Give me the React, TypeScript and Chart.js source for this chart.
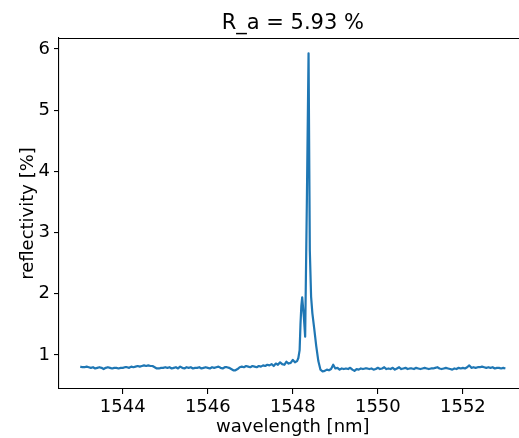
import React, { useEffect, useRef } from "react";
import { Chart, registerables } from "chart.js";

Chart.register(...registerables);

const titleText = "R_a = 5.93 %";
const xLabel = "wavelength [nm]";
const yLabel = "reflectivity [%]";
const xTicks = [1544, 1546, 1548, 1550, 1552];
const yTicks = [1, 2, 3, 4, 5, 6];

const wavelengthNm = [
  1543.0, 1543.05, 1543.1, 1543.15, 1543.2, 1543.25, 1543.3, 1543.35, 1543.4, 1543.45,
  1543.5, 1543.55, 1543.6, 1543.65, 1543.7, 1543.75, 1543.8, 1543.85, 1543.9, 1543.95,
  1544.0, 1544.05, 1544.1, 1544.15, 1544.2, 1544.25, 1544.3, 1544.35, 1544.4, 1544.45,
  1544.5, 1544.55, 1544.6, 1544.65, 1544.7, 1544.75, 1544.8, 1544.85, 1544.9, 1544.95,
  1545.0, 1545.05, 1545.1, 1545.15, 1545.2, 1545.25, 1545.3, 1545.35, 1545.4, 1545.45,
  1545.5, 1545.55, 1545.6, 1545.65, 1545.7, 1545.75, 1545.8, 1545.85, 1545.9, 1545.95,
  1546.0, 1546.05, 1546.1, 1546.15, 1546.2, 1546.25, 1546.3, 1546.35, 1546.4, 1546.45,
  1546.5, 1546.55, 1546.6, 1546.65, 1546.7, 1546.75, 1546.8, 1546.85, 1546.9, 1546.95,
  1547.0, 1547.05, 1547.1, 1547.15, 1547.2, 1547.25, 1547.3, 1547.35, 1547.4, 1547.45,
  1547.5, 1547.55, 1547.6, 1547.65, 1547.7, 1547.75, 1547.8, 1547.85, 1547.9, 1547.95,
  1548.0, 1548.05, 1548.1,
  1548.13, 1548.16, 1548.18, 1548.2, 1548.22, 1548.26, 1548.29, 1548.33, 1548.37, 1548.4,
  1548.43, 1548.46, 1548.5, 1548.55, 1548.6, 1548.65, 1548.7,
  1548.75, 1548.8, 1548.85, 1548.9, 1548.95,
  1549.0, 1549.05, 1549.1, 1549.15, 1549.2, 1549.25, 1549.3, 1549.35, 1549.4, 1549.45,
  1549.5, 1549.55, 1549.6, 1549.65, 1549.7, 1549.75, 1549.8, 1549.85, 1549.9, 1549.95,
  1550.0, 1550.05, 1550.1, 1550.15, 1550.2, 1550.25, 1550.3, 1550.35, 1550.4, 1550.45,
  1550.5, 1550.55, 1550.6, 1550.65, 1550.7, 1550.75, 1550.8, 1550.85, 1550.9, 1550.95,
  1551.0, 1551.05, 1551.1, 1551.15, 1551.2, 1551.25, 1551.3, 1551.35, 1551.4, 1551.45,
  1551.5, 1551.55, 1551.6, 1551.65, 1551.7, 1551.75, 1551.8, 1551.85, 1551.9, 1551.95,
  1552.0, 1552.05, 1552.1, 1552.15, 1552.2, 1552.25, 1552.3, 1552.35, 1552.4, 1552.45,
  1552.5, 1552.55, 1552.6, 1552.65, 1552.7, 1552.75, 1552.8, 1552.85, 1552.9, 1552.95,
  1553.0,
];

const reflectivityPct = [
  0.81, 0.8, 0.8, 0.81, 0.8, 0.79, 0.8, 0.78, 0.79, 0.8,
  0.79, 0.77, 0.79, 0.8, 0.79, 0.78, 0.79, 0.79, 0.78, 0.79,
  0.79, 0.8, 0.8, 0.79, 0.81, 0.8, 0.81, 0.82, 0.81, 0.82,
  0.83, 0.82, 0.83, 0.82, 0.82, 0.8, 0.78, 0.78, 0.79, 0.79,
  0.8, 0.79, 0.8, 0.78, 0.79, 0.8, 0.78, 0.81, 0.79, 0.78,
  0.8, 0.79, 0.8, 0.78, 0.79, 0.79, 0.8, 0.78, 0.79, 0.8,
  0.79, 0.78, 0.8, 0.79, 0.8, 0.81, 0.79, 0.78, 0.8, 0.8,
  0.79, 0.77, 0.75, 0.75, 0.77, 0.8, 0.81, 0.8, 0.82, 0.81,
  0.8, 0.82, 0.81, 0.8, 0.82, 0.81, 0.83, 0.82, 0.84, 0.83,
  0.85, 0.82, 0.86, 0.84, 0.88, 0.85, 0.84, 0.89, 0.86, 0.87,
  0.92, 0.88, 0.9,
  0.95, 1.08, 1.5, 1.8, 1.94, 1.62, 1.3, 3.5, 5.93, 2.7,
  1.95, 1.68, 1.45, 1.15, 0.9, 0.76, 0.73,
  0.74, 0.76, 0.75, 0.77, 0.84,
  0.78, 0.79, 0.76, 0.78, 0.77, 0.78, 0.77, 0.79, 0.76, 0.74,
  0.77, 0.76, 0.78, 0.77, 0.78, 0.78, 0.77, 0.78, 0.76, 0.77,
  0.79, 0.77, 0.78, 0.8, 0.77, 0.78, 0.77, 0.79, 0.76, 0.78,
  0.8, 0.77, 0.78, 0.79, 0.77, 0.78, 0.78, 0.77, 0.79, 0.78,
  0.77, 0.78, 0.79, 0.78, 0.77, 0.78, 0.78, 0.79, 0.8, 0.78,
  0.77, 0.78, 0.79, 0.78, 0.77, 0.76, 0.78, 0.77, 0.79, 0.78,
  0.79, 0.78, 0.8, 0.83, 0.79, 0.8, 0.79, 0.8, 0.8, 0.81,
  0.8, 0.79, 0.8, 0.79, 0.8, 0.78, 0.79, 0.79, 0.78, 0.79,
  0.78,
];

const FONT = "'DejaVu Sans', sans-serif";
const TICK_SIZE = 18;
const TITLE_SIZE = 21;

export default function App() {
  const ref = useRef<HTMLCanvasElement>(null);

  useEffect(() => {
    document.body.style.margin = "0";
    const canvas = ref.current;
    if (!canvas) return;

    const textPlugin = {
      id: "mplText",
      afterDraw(chart: any) {
        const { ctx, chartArea: a, scales } = chart;
        ctx.save();
        ctx.strokeStyle = "#000";
        ctx.lineWidth = 1.1;
        ctx.beginPath();
        ctx.moveTo(a.left - 0.5, a.top + 0.5);
        ctx.lineTo(a.right, a.top + 0.5);
        ctx.stroke();

        ctx.fillStyle = "#000";
        ctx.textAlign = "center";
        ctx.textBaseline = "alphabetic";
        const cx = scales.x.getPixelForValue(1548);
        ctx.font = `${TITLE_SIZE}px ${FONT}`;
        ctx.fillText(titleText, cx, 29);
        ctx.font = `${TICK_SIZE}px ${FONT}`;
        ctx.fillText(xLabel, cx, 432);
        ctx.translate(33, (a.top + a.bottom) / 2);
        ctx.rotate(-Math.PI / 2);
        ctx.fillText(yLabel, 0, 0);
        ctx.restore();
      },
    };

    const chart = new Chart(canvas, {
      type: "line",
      data: {
        datasets: [
          {
            data: wavelengthNm.map((x, i) => ({ x, y: reflectivityPct[i] })),
            borderColor: "#1f77b4",
            borderWidth: 2.2,
            pointRadius: 0,
            tension: 0,
            borderJoinStyle: "round",
            fill: false,
          },
        ],
      },
      options: {
        responsive: false,
        animation: false,
        devicePixelRatio: 1,
        layout: { padding: { top: 38, left: 0, right: 0, bottom: 0 } },
        plugins: {
          legend: { display: false },
          tooltip: { enabled: false },
          title: { display: false },
        },
        scales: {
          x: {
            type: "linear",
            min: 1542.5,
            max: 1553.32,
            afterBuildTicks: (s: any) => {
              s.ticks = xTicks.map((v) => ({ value: v }));
            },
            afterFit: (s: any) => {
              s.height = 49;
            },
            grid: {
              drawOnChartArea: false,
              drawTicks: true,
              tickLength: 5,
              color: "#000",
              lineWidth: 1.1,
            },
            border: { display: true, color: "#000", width: 1.1 },
            ticks: {
              color: "#000",
              font: { family: FONT, size: TICK_SIZE },
              padding: 3,
              maxRotation: 0,
              autoSkip: false,
              callback: (v: any) => String(v),
            },
          },
          y: {
            type: "linear",
            min: 0.444,
            max: 6.18,
            afterBuildTicks: (s: any) => {
              s.ticks = yTicks.map((v) => ({ value: v }));
            },
            afterFit: (s: any) => {
              s.width = 59;
            },
            grid: {
              drawOnChartArea: false,
              drawTicks: true,
              tickLength: 5,
              color: "#000",
              lineWidth: 1.1,
            },
            border: { display: true, color: "#000", width: 1.1 },
            ticks: {
              color: "#000",
              font: { family: FONT, size: TICK_SIZE },
              padding: 4,
              autoSkip: false,
              callback: (v: any) => String(v),
            },
          },
        },
      },
      plugins: [textPlugin],
    });

    return () => chart.destroy();
  }, []);

  return (
    <canvas
      ref={ref}
      width={519}
      height={438}
      style={{ display: "block", width: 519, height: 438 }}
    />
  );
}
